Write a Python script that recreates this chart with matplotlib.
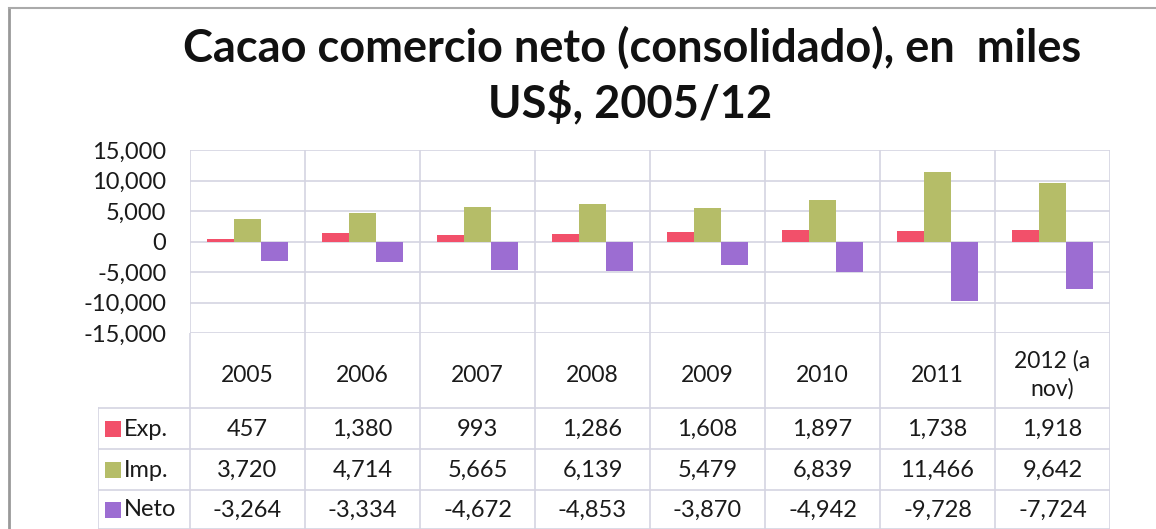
import matplotlib
matplotlib.use("Agg")
import matplotlib.pyplot as plt
import numpy as np

# ---------- data ----------
years = ["2005", "2006", "2007", "2008", "2009", "2010", "2011", "2012 (a\nnov)"]
series_names = ["Exp.", "Imp.", "Neto"]
exp_vals = [457, 1380, 993, 1286, 1608, 1897, 1738, 1918]
imp_vals = [3720, 4714, 5665, 6139, 5479, 6839, 11466, 9642]
neto_vals = [-3264, -3334, -4672, -4853, -3870, -4942, -9728, -7724]
y_ticks = [-15000, -10000, -5000, 0, 5000, 10000, 15000]

colors = ["#F2506A", "#B5BD68", "#9C6DD2"]
grid_c = "#D4D4E2"
txt_c = "#1A1A1A"

plt.rcParams["font.family"] = ["Lato", "DejaVu Sans"]

W, H = 1156, 529
fig = plt.figure(figsize=(W / 100, H / 100), dpi=100)


def fx(px):
    return px / W


def fy(py):
    return 1 - py / H


# plot area: x 190..1110, y 150..333
x0, x1 = 190, 1110
ax = fig.add_axes([fx(x0), fy(333), fx(x1) - fx(x0), fy(150) - fy(333)])
n = len(years)
xs = np.arange(n) + 0.5
bw = 0.235
for i, vals in enumerate([exp_vals, imp_vals, neto_vals]):
    ax.bar(xs + (i - 1) * bw, vals, width=bw, color=colors[i], zorder=3)

ax.set_xlim(0, n)
ax.set_ylim(-15000, 15000)
ax.set_yticks(y_ticks)
ax.set_yticklabels([f"{v:,}" for v in y_ticks], fontsize=17, color=txt_c)
ax.tick_params(axis="y", length=0, pad=17)
ax.set_xticks([])
ax.grid(axis="y", color=grid_c, lw=1.2, zorder=0)
for k in range(n + 1):
    ax.axvline(k, color=grid_c, lw=1.2, zorder=0)
for s in ax.spines.values():
    s.set_visible(False)

# data table below the plot
tb = fig.add_axes([fx(98), 0, fx(x1) - fx(98), fy(333)])
tb.set_xlim(-92 / 115, n)
tb.set_ylim(529, 333)
tb.axis("off")
row_lines = [408, 449, 490, 529]
for k in range(n + 1):
    tb.plot([k, k], [333, 529], color=grid_c, lw=1.2)
tb.plot([-92 / 115, -92 / 115], [408, 529], color=grid_c, lw=1.2)
for yl in row_lines:
    tb.plot([-92 / 115, n], [yl, yl], color=grid_c, lw=1.2)

for k, lab in enumerate(years):
    tb.text(k + 0.5, 375, lab, ha="center", va="center", fontsize=16.5,
            color=txt_c, linespacing=1.4)

row_c = [429, 470, 510]
for r, vals in enumerate([exp_vals, imp_vals, neto_vals]):
    tb.scatter([-77 / 115], [row_c[r]], marker="s", s=130, color=colors[r], lw=0)
    tb.text(-66 / 115, row_c[r], series_names[r], ha="left", va="center",
            fontsize=17, color=txt_c)
    for k, v in enumerate(vals):
        tb.text(k + 0.5, row_c[r], f"{v:,}", ha="center", va="center",
                fontsize=17, color=txt_c)

# title
fig.text(fx(632), fy(48), "Cacao comercio neto (consolidado), en  miles",
         ha="center", va="center", fontsize=32.5, fontweight="bold", color="#111111")
fig.text(fx(630), fy(103), "US$, 2005/12",
         ha="center", va="center", fontsize=32.5, fontweight="bold", color="#111111")

# outer frame (scanned image border)
fig.add_artist(plt.Line2D([fx(9), fx(9)], [fy(8), 0], color="#999999", lw=2))
fig.add_artist(plt.Line2D([fx(9), 1], [fy(8), fy(8)], color="#AAAAAA", lw=1.5))

fig.savefig("out.png", dpi=100)
